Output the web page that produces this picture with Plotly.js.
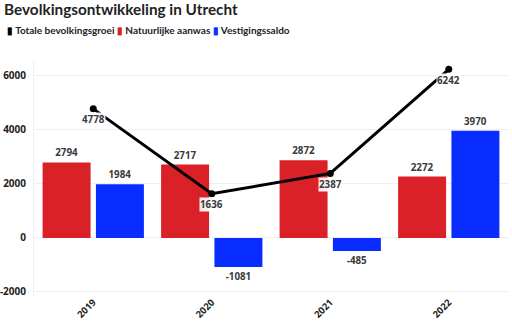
<!DOCTYPE html>
<html>
<head>
<meta charset="utf-8">
<script src="https://cdn.plot.ly/plotly-3.0.1.min.js"></script>
<style>html,body{margin:0;padding:0;background:#fff}#chart{width:512px;height:321px}</style>
</head>
<body>
<div id="chart"></div>
<script>
const years = ['2019', '2020', '2021', '2022'];
const totaleGroei = [4778, 1636, 2387, 6242];
const natuurlijkeAanwas = [2794, 2717, 2872, 2272];
const vestigingssaldo = [1984, -1081, -485, 3970];
const seriesNames = ['Totale bevolkingsgroei', 'Natuurlijke aanwas', 'Vestigingssaldo'];
const seriesColors = ['#000000', '#da2128', '#0a2dff'];
const yTicks = [-2000, 0, 2000, 4000, 6000];

const labelFont = {family: 'Open Sans', size: 9.8, color: '#3a3a3a', weight: 'bold'};
const tickFont = {family: 'Open Sans', size: 10, color: '#1e1e1e', weight: 'bold'};

const traces = [
  {
    type: 'bar', x: years, y: natuurlijkeAanwas, name: seriesNames[1],
    marker: {color: seriesColors[1]},
    text: natuurlijkeAanwas.map(String), textposition: 'outside',
    textfont: labelFont, cliponaxis: false, showlegend: false,
    hoverinfo: 'x+y'
  },
  {
    type: 'bar', x: years, y: vestigingssaldo, name: seriesNames[2],
    marker: {color: seriesColors[2]},
    text: vestigingssaldo.map(String), textposition: 'outside',
    textfont: labelFont, cliponaxis: false, showlegend: false,
    hoverinfo: 'x+y'
  },
  {
    type: 'scatter', mode: 'lines+markers', x: years, y: totaleGroei, name: seriesNames[0],
    line: {color: seriesColors[0], width: 3},
    marker: {color: seriesColors[0], size: 7},
    showlegend: false, cliponaxis: false
  }
];

// category index positions for the line labels
const annotations = totaleGroei.map((v, i) => ({
  x: i, y: v, xref: 'x', yref: 'y',
  text: String(v), showarrow: false,
  yshift: -11, yanchor: 'middle',
  bgcolor: 'rgba(255,255,255,0.92)', borderpad: 0,
  font: labelFont
}));

const legendHtml = seriesNames.map((n, i) =>
  `<span style="color:${seriesColors[i]}">▮</span>\u00a0${n}`).join('\u00a0');
annotations.push({
  xref: 'paper', yref: 'paper', x: -0.062, y: 1.132,
  xanchor: 'left', yanchor: 'middle', showarrow: false,
  text: legendHtml,
  font: {family: 'Lato', size: 10, color: '#222', weight: 'bold'}
});

const layout = {
  width: 512, height: 321,
  margin: {l: 34, r: 4, t: 61, b: 25, pad: 0},
  paper_bgcolor: '#fff', plot_bgcolor: '#fff',
  title: {
    text: 'Bevolkingsontwikkeling in Utrecht',
    x: 0.008, xanchor: 'left', y: 0.97, yanchor: 'middle',
    font: {family: 'Lato', size: 15.3, color: '#222', weight: 'bold'}
  },
  barmode: 'group', bargap: 0.1, bargroupgap: 0.1,
  xaxis: {
    type: 'category', range: [-0.5, years.length - 0.5], tickangle: -45, automargin: false,
    tickfont: {family: 'Open Sans', size: 9.5, color: '#1e1e1e', weight: 'bold'},
    showgrid: false, zeroline: false, showline: false, ticks: '', ticklabelstandoff: -2
  },
  yaxis: {
    range: [-2150, 6550], tickvals: yTicks, ticktext: yTicks.map(String),
    automargin: false,
    tickfont: tickFont,
    gridcolor: '#efefef', gridwidth: 1, zeroline: true, zerolinecolor: '#efefef',
    zerolinewidth: 1, showline: true, linecolor: '#efefef', linewidth: 1,
    ticks: '', ticklabelstandoff: 5
  },
  showlegend: false,
  annotations: annotations
};

Plotly.newPlot('chart', traces, layout, {displayModeBar: false, staticPlot: true});
</script>
</body>
</html>
